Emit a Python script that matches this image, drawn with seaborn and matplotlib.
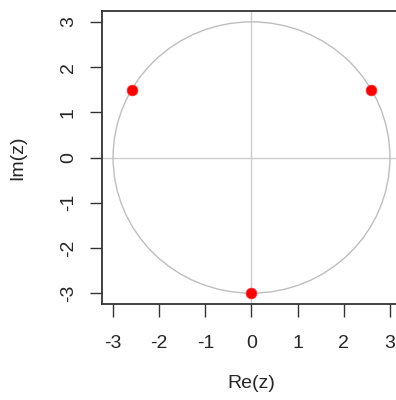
import matplotlib
matplotlib.use("Agg")
import matplotlib.pyplot as plt
import seaborn as sns
import pandas as pd
from matplotlib.patches import Circle

# Дані: корені на колі радіуса 3
re_vals = [2.598, -2.598, 0.0]
im_vals = [1.5, 1.5, -3.0]
radius = 3
ticks = [-3, -2, -1, 0, 1, 2, 3]

df = pd.DataFrame({"re": re_vals, "im": im_vals})

sns.set_style("white")
plt.rcParams["font.family"] = ["Liberation Sans", "DejaVu Sans"]

fig = plt.figure(figsize=(3.96, 4.0), dpi=100)
ax = fig.add_axes([102 / 396, 96 / 400, 299 / 396, 293 / 400])

ax.axhline(0, color="#cccccc", lw=1, zorder=1)
ax.axvline(0, color="#cccccc", lw=1, zorder=1)
ax.add_patch(Circle((0, 0), radius, fill=False, edgecolor="#bebebe", lw=1, zorder=2))

sns.scatterplot(data=df, x="re", y="im", ax=ax, color="red", s=60,
                edgecolor="#ff3030", linewidth=0.5, zorder=3, legend=False)

ax.set_xlim(-3.24, 3.24)
ax.set_ylim(-3.24, 3.24)
ax.set_xticks(ticks)
ax.set_yticks(ticks)
ax.set_xticklabels([str(t) for t in ticks], fontsize=14)
ax.set_yticklabels([str(t) for t in ticks], fontsize=14, rotation=90, va="center")
ax.tick_params(axis="both", direction="out", length=9, width=1, color="#333333",
               bottom=True, left=True, pad=9)
ax.tick_params(axis="x", pad=13)
for s in ax.spines.values():
    s.set_color("#333333")
    s.set_linewidth(1.3)

ax.set_xlabel("Re(z)", fontsize=14, labelpad=17)
ax.set_ylabel("Im(z)", fontsize=14, labelpad=24)

fig.savefig("out.png", dpi=100)
